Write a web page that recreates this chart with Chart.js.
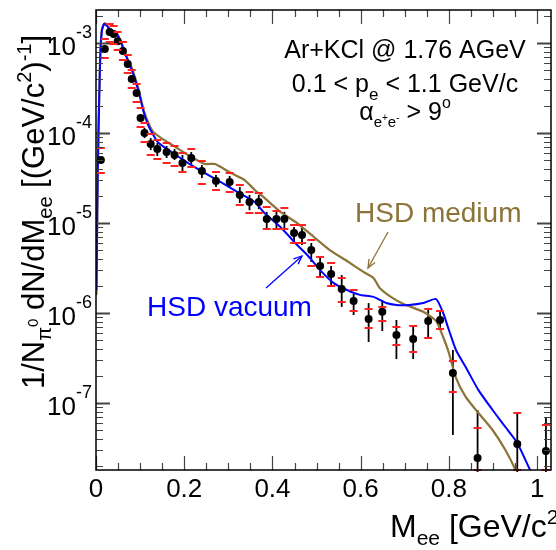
<!DOCTYPE html>
<html lang="en">
<head>
<meta charset="UTF-8" />
<title>Dielectron invariant mass - Ar+KCl</title>
<script src="https://cdn.jsdelivr.net/npm/chart.js"></script>
<style>
  html, body { margin: 0; padding: 0; background: #fff; }
  #wrap { width: 556px; height: 550px; overflow: hidden; }
</style>
</head>
<body>
<div id="wrap"><canvas id="chart" width="556" height="550"></canvas></div>
<script>
// HADES data points (M_ee in GeV/c^2, yield per pi0)
const massPts = [0.011, 0.020, 0.031, 0.040, 0.049, 0.061, 0.072, 0.081, 0.092, 0.101, 0.110,
  0.124, 0.139, 0.160, 0.178, 0.196, 0.216, 0.240, 0.272, 0.303, 0.326, 0.348, 0.369,
  0.387, 0.409, 0.427, 0.449, 0.467, 0.488, 0.508, 0.533, 0.557, 0.584, 0.618, 0.649,
  0.681, 0.719, 0.753, 0.780, 0.809, 0.865, 0.955, 1.020];
const yieldPts = [5.01e-5, 8.58e-4, 1.33e-3, 1.26e-3, 1.05e-3, 8.15e-4, 5.84e-4, 3.98e-4, 2.78e-4, 1.47e-4, 1.0e-4,
  7.55e-5, 6.64e-5, 6.15e-5, 5.70e-5, 4.64e-5, 5.28e-5, 3.78e-5, 2.93e-5, 2.85e-5, 2.05e-5, 1.71e-5, 1.71e-5,
  1.11e-5, 1.11e-5, 1.11e-5, 7.74e-6, 7.36e-6, 5.01e-6, 3.33e-6, 2.71e-6, 1.85e-6, 1.36e-6, 8.58e-7, 1.03e-6,
  5.70e-7, 5.14e-7, 8.15e-7, 8.36e-7, 2.15e-7, 2.45e-8, 3.50e-8, 2.93e-8];
// statistical errors (black bars)
const statHi = [5.41e-5, 9.03e-4, 1.39e-3, 1.33e-3, 1.11e-3, 8.58e-4, 6.15e-4, 4.19e-4, 3.0e-4, 1.59e-4, 1.14e-4,
  8.80e-5, 7.74e-5, 7.18e-5, 6.64e-5, 5.70e-5, 6.15e-5, 4.41e-5, 3.41e-5, 3.33e-5, 2.51e-5, 2.05e-5, 2.05e-5,
  1.33e-5, 1.39e-5, 1.33e-5, 9.03e-6, 9.03e-6, 5.99e-6, 4.19e-6, 3.33e-6, 2.64e-6, 1.63e-6, 1.29e-6, 1.39e-6,
  8.36e-7, 7.36e-7, 1.14e-6, 1.08e-6, 3.88e-7, 8.36e-8, 7.94e-8, 6.99e-8];
const statLo = [4.64e-5, 8.15e-4, 1.26e-3, 1.20e-3, 1.0e-3, 7.74e-4, 5.55e-4, 3.78e-4, 2.58e-4, 1.36e-4, 8.80e-5,
  6.47e-5, 5.55e-5, 5.28e-5, 5.01e-5, 3.78e-5, 4.53e-5, 3.16e-5, 2.51e-5, 2.45e-5, 1.67e-5, 1.39e-5, 1.43e-5,
  8.80e-6, 8.80e-6, 8.80e-6, 6.15e-6, 5.70e-6, 3.69e-6, 2.45e-6, 1.95e-6, 1.17e-6, 9.50e-7, 4.76e-7, 6.31e-7,
  3.08e-7, 3.08e-7, 5.28e-7, 6.81e-7, 4.41e-8, 1e-9, 1e-9, 1e-9];
// systematic errors (red markers)
const sysHi = [6.81e-5, 1.11e-3, 1.63e-3, 1.55e-3, 1.33e-3, 1.03e-3, 7.36e-4, 5.01e-4, 3.50e-4, 1.90e-4, 1.29e-4,
  9.75e-5, 8.36e-5, 7.74e-5, 7.18e-5, 5.99e-5, 6.64e-5, 4.89e-5, 3.69e-5, 3.59e-5, 2.64e-5, 2.21e-5, 2.15e-5,
  1.51e-5, 1.36e-5, 1.47e-5, 9.50e-6, 9.50e-6, 6.47e-6, 4.19e-6, 3.59e-6, 2.45e-6, 1.80e-6, 1.11e-6, 1.17e-6,
  6.99e-7, 7.18e-7, 1.11e-6, 1.05e-6, 2.93e-7, 5.28e-8, 7.74e-8, 5.70e-8];
const sysLo = [3.59e-5, 6.81e-4, 1.03e-3, 9.75e-4, 8.36e-4, 6.47e-4, 4.64e-4, 3.16e-4, 2.21e-4, 1.17e-4, 7.94e-5,
  5.70e-5, 5.14e-5, 4.64e-5, 4.30e-5, 3.69e-5, 4.19e-5, 2.71e-5, 2.33e-5, 2.21e-5, 1.58e-5, 1.29e-5, 1.29e-5,
  8.58e-6, 8.58e-6, 8.58e-6, 5.99e-6, 5.99e-6, 3.33e-6, 2.51e-6, 2.0e-6, 1.33e-6, 1.05e-6, 6.81e-7, 8.15e-7,
  4.41e-7, 3.69e-7, 5.28e-7, 6.64e-7, 1.33e-7, 1.8e-8, 1.8e-8, 1.8e-8];

// HSD vacuum (blue)
const vacMass = [0.001, 0.004, 0.009, 0.013, 0.018, 0.025, 0.034, 0.047, 0.058, 0.070, 0.083, 0.097, 0.108,
  0.119, 0.130, 0.142, 0.171, 0.209, 0.247, 0.283, 0.321, 0.360, 0.382, 0.418, 0.456, 0.479, 0.508, 0.539,
  0.569, 0.598, 0.629, 0.658, 0.681, 0.710, 0.742, 0.771, 0.787, 0.800, 0.816, 0.838, 0.867, 0.899, 0.928,
  0.955, 0.984, 1.007];
const vacVal = [1.80e-6, 3.88e-5, 5.70e-4, 1.33e-3, 1.63e-3, 1.55e-3, 1.33e-3, 1.26e-3, 9.75e-4, 6.81e-4,
  4.76e-4, 2.85e-4, 1.71e-4, 1.20e-4, 9.50e-5, 7.74e-5, 6.15e-5, 4.64e-5, 3.59e-5, 2.85e-5, 2.21e-5, 1.71e-5,
  1.29e-5, 9.03e-6, 5.70e-6, 4.41e-6, 3.0e-6, 2.15e-6, 1.80e-6, 1.59e-6, 1.51e-6, 1.29e-6, 1.23e-6, 1.23e-6,
  1.29e-6, 1.43e-6, 1.0e-6, 6.47e-7, 3.88e-7, 2.51e-7, 1.39e-7, 8.36e-8, 5.41e-8, 3.59e-8, 1.80e-8, 1.08e-8];

// HSD medium (brown)
const medMass = [0.001, 0.004, 0.009, 0.013, 0.020, 0.034, 0.047, 0.058, 0.070, 0.083, 0.097, 0.108, 0.119,
  0.130, 0.148, 0.180, 0.216, 0.247, 0.270, 0.306, 0.337, 0.360, 0.382, 0.418, 0.456, 0.494, 0.530, 0.569,
  0.607, 0.629, 0.643, 0.672, 0.697, 0.742, 0.771, 0.787, 0.800, 0.816, 0.838, 0.867, 0.899, 0.928, 0.951,
  0.969];
const medVal = [1.59e-6, 3.88e-5, 5.70e-4, 1.39e-3, 1.67e-3, 1.39e-3, 1.29e-3, 1.0e-3, 6.99e-4, 5.01e-4,
  3.0e-4, 1.80e-4, 1.29e-4, 1.03e-4, 8.80e-5, 6.99e-5, 5.41e-5, 4.53e-5, 4.53e-5, 3.59e-5, 3.0e-5, 2.33e-5,
  1.90e-5, 1.33e-5, 1.0e-5, 6.99e-6, 5.01e-6, 3.78e-6, 2.85e-6, 2.45e-6, 1.90e-6, 1.47e-6, 1.26e-6, 1.03e-6,
  8.15e-7, 5.41e-7, 3.59e-7, 1.90e-7, 1.17e-7, 7.74e-8, 5.01e-8, 3.0e-8, 1.80e-8, 1.08e-8];

const xTicks = [0, 0.2, 0.4, 0.6, 0.8, 1];
const xTickLabels = ['0', '0.2', '0.4', '0.6', '0.8', '1'];
const yTicks = [1e-7, 1e-6, 1e-5, 1e-4, 1e-3];
const yTickExp = ['-7', '-6', '-5', '-4', '-3'];

const FONT = '"Liberation Sans", Arial, sans-serif';
const BROWN = '#8c7439';
const BLUE = '#0000ff';

// draw text made of pieces [text, size, dy]
function richText(ctx, parts, x, y, align) {
  let w = 0;
  parts.forEach(p => { ctx.font = p[1] + 'px ' + FONT; w += ctx.measureText(p[0]).width; });
  let cx = align === 'right' ? x - w : align === 'center' ? x - w / 2 : x;
  parts.forEach(p => {
    ctx.font = p[1] + 'px ' + FONT;
    ctx.fillText(p[0], cx, y + (p[2] || 0));
    cx += ctx.measureText(p[0]).width;
  });
}

function arrow(ctx, x0, y0, x1, y1, color) {
  ctx.strokeStyle = color; ctx.lineWidth = 1.3;
  ctx.beginPath(); ctx.moveTo(x0, y0); ctx.lineTo(x1, y1); ctx.stroke();
  const a = Math.atan2(y1 - y0, x1 - x0);
  ctx.beginPath();
  ctx.moveTo(x1 - 9 * Math.cos(a - 0.4), y1 - 9 * Math.sin(a - 0.4));
  ctx.lineTo(x1, y1);
  ctx.lineTo(x1 - 9 * Math.cos(a + 0.4), y1 - 9 * Math.sin(a + 0.4));
  ctx.stroke();
}

const errorBars = {
  id: 'errorBars',
  beforeDatasetsDraw(chart) {
    const { ctx, chartArea: a, scales: { x, y } } = chart;
    ctx.save();
    ctx.beginPath(); ctx.rect(a.left, a.top, a.right - a.left, a.bottom - a.top + 2); ctx.clip();
    massPts.forEach((m, i) => {
      const px = x.getPixelForValue(m);
      ctx.strokeStyle = '#000'; ctx.lineWidth = 1.8;
      ctx.beginPath();
      ctx.moveTo(px, y.getPixelForValue(statHi[i]));
      ctx.lineTo(px, y.getPixelForValue(statLo[i]));
      ctx.stroke();
    });
    ctx.restore();
  },
  afterDatasetsDraw(chart) {
    const { ctx, chartArea: a, scales: { x, y } } = chart;
    ctx.save();
    ctx.beginPath(); ctx.rect(a.left, a.top, a.right - a.left, a.bottom - a.top + 2); ctx.clip();
    ctx.strokeStyle = '#f22'; ctx.lineWidth = 2;
    massPts.forEach((m, i) => {
      const px = x.getPixelForValue(m);
      [sysHi[i], sysLo[i]].forEach(v => {
        const py = Math.round(y.getPixelForValue(v));
        ctx.beginPath(); ctx.moveTo(px - 4, py); ctx.lineTo(px + 4, py); ctx.stroke();
      });
    });
    ctx.restore();
  }
};

const frame = {
  id: 'frame',
  afterDraw(chart) {
    const { ctx, chartArea: a, scales: { x, y } } = chart;
    ctx.save();
    // ticks
    ctx.strokeStyle = '#444'; ctx.lineWidth = 1.2;
    for (let k = 0; k <= 20; k++) {
      const v = k * 0.05;
      const px = Math.round(x.getPixelForValue(v)) + 0.5;
      const len = k % 4 === 0 ? 14 : 7;
      ctx.beginPath();
      ctx.moveTo(px, a.bottom); ctx.lineTo(px, a.bottom - len);
      ctx.moveTo(px, a.top); ctx.lineTo(px, a.top + len);
      ctx.stroke();
    }
    for (let e = -8; e <= -3; e++) {
      for (let m = 1; m <= 9; m++) {
        const v = m * Math.pow(10, e);
        if (v < y.min || v > y.max) continue;
        const py = Math.round(y.getPixelForValue(v)) + 0.5;
        const len = m === 1 ? 14 : 7;
        ctx.lineWidth = m === 1 ? 2 : 1.2;
        ctx.beginPath();
        ctx.moveTo(a.left, py); ctx.lineTo(a.left + len, py);
        ctx.moveTo(a.right - 1, py); ctx.lineTo(a.right - 1 - len, py);
        ctx.stroke();
      }
    }
    // frame
    ctx.strokeStyle = '#000'; ctx.lineWidth = 1.5;
    ctx.strokeRect(a.left, a.top, a.right - a.left - 1, a.bottom - a.top);

    ctx.fillStyle = '#000';
    ctx.textBaseline = 'alphabetic';
    // x tick labels
    ctx.font = '26px ' + FONT; ctx.textAlign = 'center';
    xTicks.forEach((v, i) => ctx.fillText(xTickLabels[i], x.getPixelForValue(v), 497));
    // y tick labels
    ctx.textAlign = 'left';
    yTicks.forEach((v, i) => {
      const py = y.getPixelForValue(v);
      richText(ctx, [['10', 26, 0], [yTickExp[i], 18, -17]], 92, py + 12, 'right');
    });
    // x title
    richText(ctx, [['M', 32, 0], ['ee', 21, 8], [' [GeV/c', 32, 0], ['2', 21, -13], [']', 32, 0]], 390, 537, 'left');
    // y title
    ctx.save();
    ctx.translate(44, 212); ctx.rotate(-Math.PI / 2);
    richText(ctx, [['1/N', 31, 0], ['\u03c0', 20, 7], ['0', 15, -6], [' dN/dM', 31, 0], ['ee', 20, 8],
      [' [(GeV/c', 31, 0], ['2', 20, -13], [')', 31, 0], ['-1', 20, -13], [']', 31, 0]], 0, 0, 'center');
    ctx.restore();

    // annotations
    ctx.font = '25px ' + FONT;
    ctx.textAlign = 'center';
    ctx.fillText('Ar+KCl @ 1.76 AGeV', 405, 58);
    ctx.textAlign = 'left';
    richText(ctx, [['0.1 < p', 25, 0], ['e', 17, 8], [' < 1.1 GeV/c', 25, 0]], 405, 92, 'center');
    richText(ctx, [['\u03b1', 25, 0], ['e', 15, 7], ['+', 10, 1], ['e', 15, 7], ['-', 10, 1], [' > 9', 25, 0], ['o', 16, -12]], 405, 120, 'center');

    ctx.fillStyle = BROWN; ctx.font = '28px ' + FONT;
    ctx.fillText('HSD medium', 355, 222);
    arrow(ctx, 388, 232, 368, 268, BROWN);
    ctx.fillStyle = BLUE;
    ctx.fillText('HSD vacuum', 147, 316);
    arrow(ctx, 266, 288, 302, 256, BLUE);
    ctx.restore();
  }
};

const hidden = {
  display: true,
  ticks: { display: false },
  grid: { display: false, drawTicks: false },
  border: { display: false }
};

new Chart(document.getElementById('chart'), {
  type: 'scatter',
  data: {
    datasets: [
      {
        label: 'data',
        data: massPts.map((m, i) => ({ x: m, y: yieldPts[i] })),
        pointRadius: 4,
        pointBackgroundColor: '#000',
        pointBorderWidth: 0,
        showLine: false,
        order: 0
      },
      {
        label: 'HSD vacuum',
        data: vacMass.map((m, i) => ({ x: m, y: vacVal[i] })),
        showLine: true,
        borderColor: BLUE,
        borderWidth: 2,
        pointRadius: 0,
        tension: 0.2,
        order: 1
      },
      {
        label: 'HSD medium',
        data: medMass.map((m, i) => ({ x: m, y: medVal[i] })),
        showLine: true,
        borderColor: BROWN,
        borderWidth: 2.2,
        pointRadius: 0,
        tension: 0.2,
        order: 2
      }
    ]
  },
  options: {
    responsive: false,
    animation: false,
    devicePixelRatio: 1,
    layout: { padding: { left: 96, top: 10, right: 0, bottom: 80 } },
    plugins: { legend: { display: false }, tooltip: { enabled: false } },
    scales: {
      x: Object.assign({}, hidden, {
        type: 'linear', min: 0, max: 1.0337,
        afterFit(s) { s.height = 0; }
      }),
      y: Object.assign({}, hidden, {
        type: 'logarithmic', min: 1.8e-8, max: 2.33e-3,
        afterFit(s) { s.width = 0; }
      })
    }
  },
  plugins: [errorBars, frame]
});
</script>
</body>
</html>
